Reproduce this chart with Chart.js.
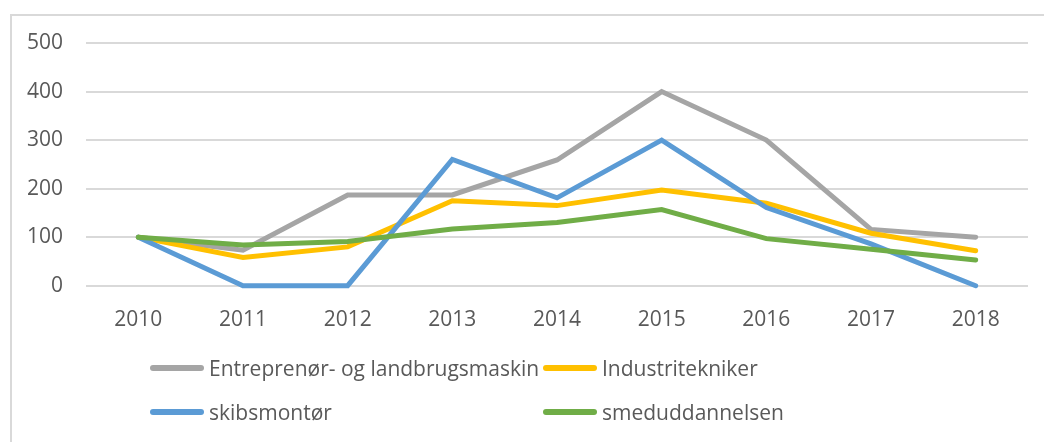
<!DOCTYPE html>
<html>
<head>
<meta charset="utf-8">
<script src="https://cdn.jsdelivr.net/npm/chart.js@4/dist/chart.umd.min.js"></script>
<style>
  html, body { margin: 0; padding: 0; background: #fff; width: 1044px; height: 442px; overflow: hidden; }
  #frame { position: absolute; left: 10px; top: 14px; width: 1100px; height: 500px; border: 2px solid #d9d9d9; box-sizing: border-box; }
  #wrap { position: absolute; left: 0; top: 0; width: 1044px; height: 442px; }
  #legend { position: absolute; left: 0; top: 0; width: 1044px; height: 442px; pointer-events: none;
            font-family: "Open Sans", sans-serif; font-size: 21px; color: #595959; }
  .item { position: absolute; display: flex; align-items: center; white-space: nowrap; }
  .sw { width: 54px; height: 6px; border-radius: 3px; margin-right: 5px; }
</style>
</head>
<body>
<div id="frame"></div>
<div id="wrap"><canvas id="c" width="1044" height="442"></canvas></div>
<div id="legend"></div>
<script>
const categories = ["2010", "2011", "2012", "2013", "2014", "2015", "2016", "2017", "2018"];
const seriesNames = ["Entreprenør- og landbrugsmaskin", "Industritekniker", "skibsmontør", "smeduddannelsen"];
const entreprenor = [100, 73, 187, 187, 259, 400, 300, 116, 100];
const industritekniker = [100, 58, 80, 175, 165, 197, 170, 108, 72];
const skibsmontor = [100, 0, 0, 260, 181, 300, 161, 86, 0];
const smeduddannelsen = [100, 84, 91, 117, 130, 157, 97, 75, 53];
const yTicks = [0, 100, 200, 300, 400, 500];

const colors = ["#A5A5A5", "#FFC000", "#5B9BD5", "#70AD47"];
const seriesData = [entreprenor, industritekniker, skibsmontor, smeduddannelsen];

const datasets = seriesData.map((d, i) => ({
  label: seriesNames[i],
  data: d,
  borderColor: colors[i],
  backgroundColor: colors[i],
  borderWidth: 5,
  pointRadius: 0,
  tension: 0,
  borderCapStyle: 'round',
  borderJoinStyle: 'miter',
  order: 4 - i,
  clip: 6
}));

new Chart(document.getElementById('c'), {
  type: 'line',
  data: { labels: categories, datasets },
  options: {
    responsive: false,
    animation: false,
    layout: { padding: { left: 0, right: 16, top: 43, bottom: 0 } },
    plugins: { legend: { display: false }, tooltip: { enabled: false } },
    scales: {
      x: {
        offset: true,
        grid: { display: false },
        border: { display: false },
        ticks: { color: '#595959', font: { family: 'Open Sans', size: 21 }, padding: 14, maxRotation: 0 },
        afterFit: s => { s.height = 156.3; }
      },
      y: {
        min: 0, max: 500,
        afterBuildTicks: s => { s.ticks = yTicks.map(v => ({ value: v })); },
        grid: { color: '#d9d9d9', lineWidth: 2, drawTicks: false },
        border: { display: false },
        ticks: { color: '#595959', font: { family: 'Open Sans', size: 21 }, padding: 23 },
        afterFit: s => { s.width = 86; }
      }
    }
  }
});

const legend = document.getElementById('legend');
const pos = [[150, 368], [543, 368], [150, 412], [543, 412]];
seriesNames.forEach((n, i) => {
  const it = document.createElement('div');
  it.className = 'item';
  it.style.left = pos[i][0] + 'px';
  it.style.top = (pos[i][1] - 14) + 'px';
  it.style.height = '28px';
  const sw = document.createElement('div');
  sw.className = 'sw';
  sw.style.background = colors[i];
  const tx = document.createElement('span');
  tx.textContent = n;
  it.appendChild(sw); it.appendChild(tx);
  legend.appendChild(it);
});
</script>
</body>
</html>
